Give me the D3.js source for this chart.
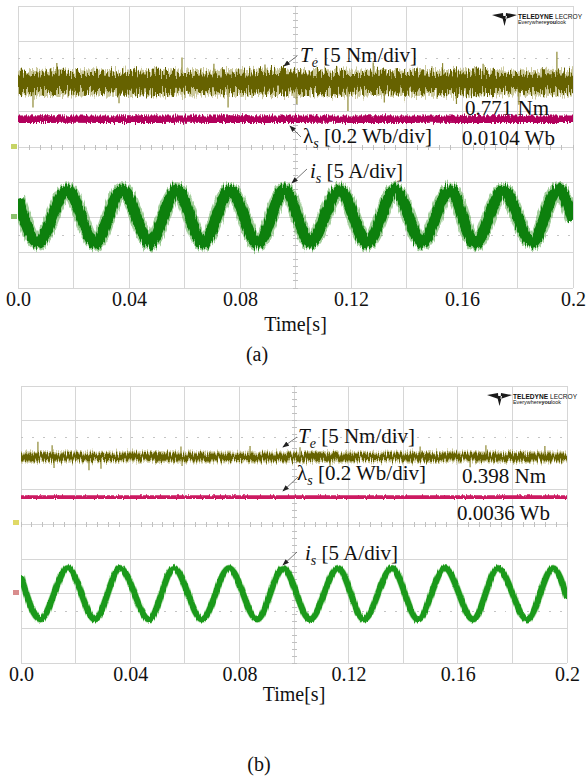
<!DOCTYPE html>
<html>
<head>
<meta charset="utf-8">
<script src="https://cdn.jsdelivr.net/npm/d3@7"></script>
<style>
    body { margin: 0; background: #fff; }
    svg text { font-family: "Liberation Serif", "Times New Roman", serif; fill: #111; }
</style>
</head>
<body>
<svg id="fig" width="588" height="779"></svg>
<script>
(function () {
    'use strict';

    var timeTicks = [0, 0.04, 0.08, 0.12, 0.16, 0.2];
    var timeTickLabels = ['0.0', '0.04', '0.08', '0.12', '0.16', '0.2'];

    // envelope sample times (s)
    var envTimes = [0, 0.01, 0.02, 0.03, 0.04, 0.05, 0.06, 0.07, 0.08, 0.09, 0.1,
                    0.11, 0.12, 0.13, 0.14, 0.15, 0.16, 0.17, 0.18, 0.19, 0.2];

    // torque ripple half-band (Nm) around its trace level
    var teRippleA = [1.3, 1.35, 1.25, 1.3, 1.4, 1.3, 1.25, 1.35, 1.3, 1.4, 1.35,
                     1.3, 1.25, 1.3, 1.4, 1.3, 1.35, 1.3, 1.25, 1.35, 1.3];
    var teRippleB = [0.5, 0.55, 0.5, 0.45, 0.5, 0.55, 0.5, 0.5, 0.45, 0.5, 0.5,
                     0.55, 0.5, 0.45, 0.5, 0.55, 0.5, 0.5, 0.55, 0.5, 0.5];

    // torque spikes [time s, deviation Nm]
    var teSpikesA = [[0.0054, -3.5], [0.0140, 2.8], [0.0364, -2.9], [0.0591, 3.6], [0.0706, 2.7],
                     [0.0757, -3.5], [0.0890, 2.6], [0.1005, -3.0], [0.1189, -4.0], [0.1280, 2.9],
                     [0.1320, -2.8], [0.1530, 2.8], [0.1580, -3.0], [0.1676, 2.7], [0.1805, -3.1],
                     [0.1942, 4.4]];
    var teSpikesB = [[0.0062, 2.2], [0.0114, 1.7], [0.0121, -1.6], [0.0249, -1.9], [0.0293, -1.7],
                     [0.0586, 1.5], [0.0590, -1.3], [0.0839, 1.6], [0.1022, 1.4], [0.1132, -1.4],
                     [0.1462, 1.5], [0.1645, -1.5], [0.1703, 1.7], [0.1919, 1.6]];

    // flux ripple half-band (Wb)
    var fluxRippleA = [0.017, 0.018, 0.016, 0.017, 0.018, 0.017, 0.016, 0.017, 0.018, 0.017, 0.017,
                       0.016, 0.017, 0.018, 0.017, 0.016, 0.017, 0.018, 0.017, 0.017, 0.017];
    var fluxRippleB = [0.006, 0.007, 0.006, 0.006, 0.007, 0.006, 0.006, 0.007, 0.006, 0.006, 0.007,
                       0.006, 0.006, 0.007, 0.006, 0.006, 0.007, 0.006, 0.006, 0.007, 0.006];

    // stator current: start, extrema, end (s, A)
    var isTimesA = [0, 0.0072, 0.0177, 0.0278, 0.0375, 0.0476, 0.0573, 0.0667, 0.0764, 0.0865, 0.0962,
                    0.1052, 0.1160, 0.1258, 0.1359, 0.1456, 0.1557, 0.1647, 0.1748, 0.1852, 0.1946, 0.2];
    var isValuesA = [2.5, -3.7, 3.8, -3.8, 3.8, -3.7, 3.8, -3.8, 3.7, -3.8, 3.8,
                     -3.7, 3.8, -3.8, 3.8, -3.7, 3.8, -3.8, 3.7, -3.7, 3.8, -0.6];
    var isTimesB = [0, 0.0070, 0.0172, 0.0271, 0.0363, 0.0469, 0.0560, 0.0663, 0.0762, 0.0865, 0.0960,
                    0.1059, 0.1161, 0.1256, 0.1359, 0.1454, 0.1553, 0.1656, 0.1747, 0.1854, 0.1949, 0.2];
    var isValuesB = [2.5, -3.7, 3.7, -3.7, 3.7, -3.7, 3.7, -3.7, 3.7, -3.7, 3.7,
                     -3.7, 3.7, -3.7, 3.7, -3.7, 3.7, -3.7, 3.7, -3.7, 3.7, -0.6];

    var readoutsA = ['0.771 Nm', '0.0104 Wb'];
    var readoutsB = ['0.398 Nm', '0.0036 Wb'];
    var captions = ['(a)', '(b)'];

    var perDiv = { te: 5, flux: 0.2, is: 5 };

    var svg = d3.select('#fig');
    var defs = svg.append('defs');

    defs.append('marker')
        .attr('id', 'arrow')
        .attr('viewBox', '0 0 8 6')
        .attr('refX', 7).attr('refY', 3)
        .attr('markerWidth', 7).attr('markerHeight', 5)
        .attr('markerUnits', 'userSpaceOnUse')
        .attr('orient', 'auto')
        .append('path').attr('d', 'M0,0 L8,3 L0,6 Z').attr('fill', '#222');

    // jagged vertical texture for the noisy scope traces
    function makeFuzz(id, scale, seed, freq) {
        var f = defs.append('filter')
            .attr('id', id)
            .attr('filterUnits', 'userSpaceOnUse')
            .attr('x', 0).attr('y', 0).attr('width', 588).attr('height', 779)
            .attr('color-interpolation-filters', 'sRGB');
        f.append('feTurbulence')
            .attr('type', 'fractalNoise')
            .attr('baseFrequency', freq)
            .attr('numOctaves', 2)
            .attr('seed', seed)
            .attr('result', 'noise');
        f.append('feColorMatrix')
            .attr('in', 'noise')
            .attr('type', 'matrix')
            .attr('values', '0 0 0 0 0.5  0 1 0 0 0  0 0 0 0 0  0 0 0 0 1')
            .attr('result', 'map');
        f.append('feDisplacementMap')
            .attr('in', 'SourceGraphic')
            .attr('in2', 'map')
            .attr('scale', scale)
            .attr('xChannelSelector', 'R')
            .attr('yChannelSelector', 'G');
    }
    makeFuzz('fuzzTeA', 26, 3, '0.8 0.05');
    makeFuzz('fuzzTeA2', 18, 7, '0.9 0.06');
    makeFuzz('fuzzTeB', 12, 5, '0.8 0.06');
    makeFuzz('fuzzFluxA', 7, 11, '0.9 0.08');
    makeFuzz('fuzzFluxB', 3, 13, '0.9 0.08');
    makeFuzz('fuzzIsA', 12, 17, '0.9 0.05');
    makeFuzz('fuzzIsB', 5, 19, '0.9 0.05');

    var panels = [
        {
            id: 'a', left: 18, right: 573, top: 6, bottom: 288,
            teLevel: 1.82, fluxLevel: 0.79, isLevel: -1.97,
            teRipple: teRippleA, teSpikes: teSpikesA, fluxRipple: fluxRippleA,
            isTimes: isTimesA, isValues: isValuesA, readouts: readoutsA, caption: captions[0],
            fuzz: { te: 'fuzzTeA', te2: 'fuzzTeA2', flux: 'fuzzFluxA', is: 'fuzzIsA' },
            teHalo: 7, teHaloOpacity: 0.6, isWidth: 11, isHalo: 15, isColor: '#0d800d', isHaloColor: '#58a84a',
            isHaloOpacity: 0.55, fluxColor: '#b2005c',
            labels: { te: [300, 62], flux: [303, 143], is: [310, 178], r1: [465, 115], r2: [462, 145] },
            arrows: [[297, 56, 284, 66], [301, 137, 290, 126], [307, 169, 292, 183]],
            tickBase: 4, timeBase: 331, capPos: [257, 361],
            logo: [492, 13],
            chan: [[13, 144, '#b8c940'], [13, 214, '#6fb34a']]
        },
        {
            id: 'b', left: 21, right: 567, top: 386, bottom: 663,
            teLevel: 1.95, fluxLevel: 0.79, isLevel: -2.0,
            teRipple: teRippleB, teSpikes: teSpikesB, fluxRipple: fluxRippleB,
            isTimes: isTimesB, isValues: isValuesB, readouts: readoutsB, caption: captions[1],
            fuzz: { te: 'fuzzTeB', te2: 'fuzzTeB', flux: 'fuzzFluxB', is: 'fuzzIsB' },
            teHalo: 4, teHaloOpacity: 0.6, isWidth: 6, isHalo: 7.5, isColor: '#1a991a', isHaloColor: '#6cc060',
            isHaloOpacity: 0.5, fluxColor: '#cc1a62',
            labels: { te: [298, 443], flux: [297, 480], is: [305, 560], r1: [462, 483], r2: [457, 520] },
            arrows: [[297, 437, 283, 447], [298, 477, 283, 491], [297, 552, 283, 565]],
            tickBase: 4, timeBase: 701, capPos: [259, 771],
            logo: [487, 393],
            chan: [[15, 520, '#d8d040'], [15, 590, '#d07070']]
        }
    ];

    panels.forEach(drawPanel);

    function drawPanel(p) {
        var x = d3.scaleLinear().domain([0, 0.2]).range([p.left, p.right]);
        var y = d3.scaleLinear().domain([-4, 4]).range([p.bottom, p.top]);
        var g = svg.append('g');

        defs.append('clipPath').attr('id', 'clip-' + p.id)
            .append('rect')
            .attr('x', p.left).attr('y', p.top)
            .attr('width', p.right - p.left).attr('height', p.bottom - p.top);

        // scope graticule
        var grid = g.append('g').attr('stroke', '#d6d6d6').attr('stroke-width', 1).attr('shape-rendering', 'crispEdges');
        grid.selectAll('.vg').data(d3.range(0, 11)).enter().append('line')
            .attr('x1', function (i) { return x(i * 0.02); }).attr('x2', function (i) { return x(i * 0.02); })
            .attr('y1', p.top).attr('y2', p.bottom);
        grid.selectAll('.hg').data(d3.range(-4, 5)).enter().append('line')
            .attr('x1', p.left).attr('x2', p.right)
            .attr('y1', function (d) { return y(d); }).attr('y2', function (d) { return y(d); });

        // dotted half-division rows
        grid.selectAll('.dg').data([2.5, -2.5]).enter().append('line')
            .attr('x1', p.left).attr('x2', p.right)
            .attr('y1', function (d) { return y(d); }).attr('y2', function (d) { return y(d); })
            .attr('stroke', '#c4c4c4').attr('stroke-dasharray', '1.5,9.5');

        // minor ticks on the centre cross
        var ticks = g.append('g').attr('stroke', '#c0c0c0').attr('stroke-width', 1).attr('shape-rendering', 'crispEdges');
        ticks.selectAll('.tx').data(d3.range(0, 51)).enter().append('line')
            .attr('x1', function (i) { return x(i * 0.004); }).attr('x2', function (i) { return x(i * 0.004); })
            .attr('y1', y(0) - 2.5).attr('y2', y(0) + 2.5);
        ticks.selectAll('.ty').data(d3.range(-20, 21)).enter().append('line')
            .attr('y1', function (i) { return y(i * 0.2); }).attr('y2', function (i) { return y(i * 0.2); })
            .attr('x1', x(0.1) - 2.5).attr('x2', x(0.1) + 2.5);

        // channel markers at the left edge
        p.chan.forEach(function (c) {
            g.append('rect').attr('x', c[0] - 2).attr('y', c[1]).attr('width', 6).attr('height', 5)
                .attr('fill', c[2]).attr('opacity', 0.8);
        });

        drawLogo(g, p.logo[0], p.logo[1]);

        // readouts sit under the traces
        var rd = g.append('g').attr('font-size', 21);
        rd.append('text').attr('x', p.labels.r1[0]).attr('y', p.labels.r1[1]).text(p.readouts[0]);
        rd.append('text').attr('x', p.labels.r2[0]).attr('y', p.labels.r2[1]).text(p.readouts[1]);

        var traces = g.append('g').attr('clip-path', 'url(#clip-' + p.id + ')');

        // torque trace
        var teArea = d3.area()
            .x(function (d, i) { return x(envTimes[i]); })
            .y0(function (d) { return y(p.teLevel - d / perDiv.te); })
            .y1(function (d) { return y(p.teLevel + d / perDiv.te); });
        traces.append('g').attr('filter', 'url(#' + p.fuzz.te2 + ')')
            .append('path').datum(p.teRipple)
            .attr('d', teArea)
            .attr('fill', '#a29d4a').attr('stroke', '#aaa55a').attr('stroke-width', p.teHalo)
            .attr('opacity', p.teHaloOpacity);
        traces.append('g').selectAll('line').data(p.teSpikes).enter().append('line')
            .attr('x1', function (d) { return x(d[0]); }).attr('x2', function (d) { return x(d[0]); })
            .attr('y1', y(p.teLevel))
            .attr('y2', function (d) { return y(p.teLevel + d[1] / perDiv.te); })
            .attr('stroke', '#8e8933').attr('stroke-width', 1.2);
        traces.append('g').attr('filter', 'url(#' + p.fuzz.te + ')')
            .append('path').datum(p.teRipple)
            .attr('d', teArea)
            .attr('fill', '#666200');

        // flux trace
        var fluxArea = d3.area()
            .x(function (d, i) { return x(envTimes[i]); })
            .y0(function (d) { return y(p.fluxLevel - d / perDiv.flux); })
            .y1(function (d) { return y(p.fluxLevel + d / perDiv.flux); });
        traces.append('g').attr('filter', 'url(#' + p.fuzz.flux + ')')
            .append('path').datum(p.fluxRipple)
            .attr('d', fluxArea)
            .attr('fill', p.fluxColor).attr('stroke', p.fluxColor).attr('stroke-width', 1.5);

        // stator current trace
        var isLine = d3.line()
            .x(function (d, i) { return x(p.isTimes[i]); })
            .y(function (d) { return y(p.isLevel + d / perDiv.is); })
            .curve(d3.curveMonotoneX);
        var isG = traces.append('g').attr('filter', 'url(#' + p.fuzz.is + ')');
        isG.append('path').datum(p.isValues)
            .attr('d', isLine)
            .attr('fill', 'none').attr('stroke', p.isHaloColor).attr('stroke-width', p.isHalo)
            .attr('opacity', p.isHaloOpacity);
        isG.append('path').datum(p.isValues)
            .attr('d', isLine)
            .attr('fill', 'none').attr('stroke', p.isColor).attr('stroke-width', p.isWidth);

        // trace labels
        var lb = g.append('g').attr('font-size', 21);
        var t1 = lb.append('text').attr('x', p.labels.te[0]).attr('y', p.labels.te[1]);
        t1.append('tspan').attr('font-style', 'italic').text('T');
        t1.append('tspan').attr('font-style', 'italic').attr('font-size', 14).attr('dy', 5).text('e');
        t1.append('tspan').attr('dy', -5).text(' [5 Nm/div]');
        var t2 = lb.append('text').attr('x', p.labels.flux[0]).attr('y', p.labels.flux[1]);
        t2.append('tspan').text('\u03bb');
        t2.append('tspan').attr('font-style', 'italic').attr('font-size', 14).attr('dy', 5).text('s');
        t2.append('tspan').attr('dy', -5).text(' [0.2 Wb/div]');
        var t3 = lb.append('text').attr('x', p.labels.is[0]).attr('y', p.labels.is[1]);
        t3.append('tspan').attr('font-style', 'italic').text('i');
        t3.append('tspan').attr('font-style', 'italic').attr('font-size', 14).attr('dy', 5).text('s');
        t3.append('tspan').attr('dy', -5).text(' [5 A/div]');

        g.append('g').selectAll('line').data(p.arrows).enter().append('line')
            .attr('x1', function (d) { return d[0]; }).attr('y1', function (d) { return d[1]; })
            .attr('x2', function (d) { return d[2]; }).attr('y2', function (d) { return d[3]; })
            .attr('stroke', '#555').attr('stroke-width', 0.8)
            .attr('marker-end', 'url(#arrow)');

        // time axis
        var axis = d3.axisBottom(x)
            .tickValues(timeTicks)
            .tickFormat(function (d, i) { return timeTickLabels[i]; })
            .tickSize(0)
            .tickPadding(p.tickBase);
        var ax = g.append('g').attr('transform', 'translate(0,' + p.bottom + ')').call(axis);
        ax.select('.domain').remove();
        ax.selectAll('text')
            .attr('font-family', '"Liberation Serif", "Times New Roman", serif')
            .attr('font-size', 20).attr('fill', '#111');

        g.append('text').attr('x', x(0.1)).attr('y', p.timeBase)
            .attr('text-anchor', 'middle').attr('font-size', 20).text('Time[s]');
        g.append('text').attr('x', p.capPos[0]).attr('y', p.capPos[1])
            .attr('text-anchor', 'middle').attr('font-size', 20).text(p.caption);
    }

    function drawLogo(g, lx, ly) {
        var lg = g.append('g').attr('transform', 'translate(' + lx + ',' + ly + ')');
        lg.append('path')
            .attr('d', 'M0,2 L11,0 L11.5,6 Z M25,2 L14,0 L13.5,6 Z M10,3 L15,3 L12.5,13 Z')
            .attr('fill', '#1a1a1a');
        lg.append('text').attr('x', 26).attr('y', 5.5)
            .style('font-family', '"Liberation Sans", Arial, sans-serif')
            .attr('font-size', 6.6).attr('fill', '#333')
            .call(function (t) {
                t.append('tspan').attr('font-weight', 'bold').text('TELEDYNE');
                t.append('tspan').text(' LECROY');
            });
        lg.append('text').attr('x', 26).attr('y', 11)
            .style('font-family', '"Liberation Sans", Arial, sans-serif')
            .attr('font-size', 5.4).attr('fill', '#666')
            .call(function (t) {
                t.append('tspan').text('Everywhere');
                t.append('tspan').attr('font-weight', 'bold').text('you');
                t.append('tspan').text('look');
            });
    }
})();
</script>
</body>
</html>
